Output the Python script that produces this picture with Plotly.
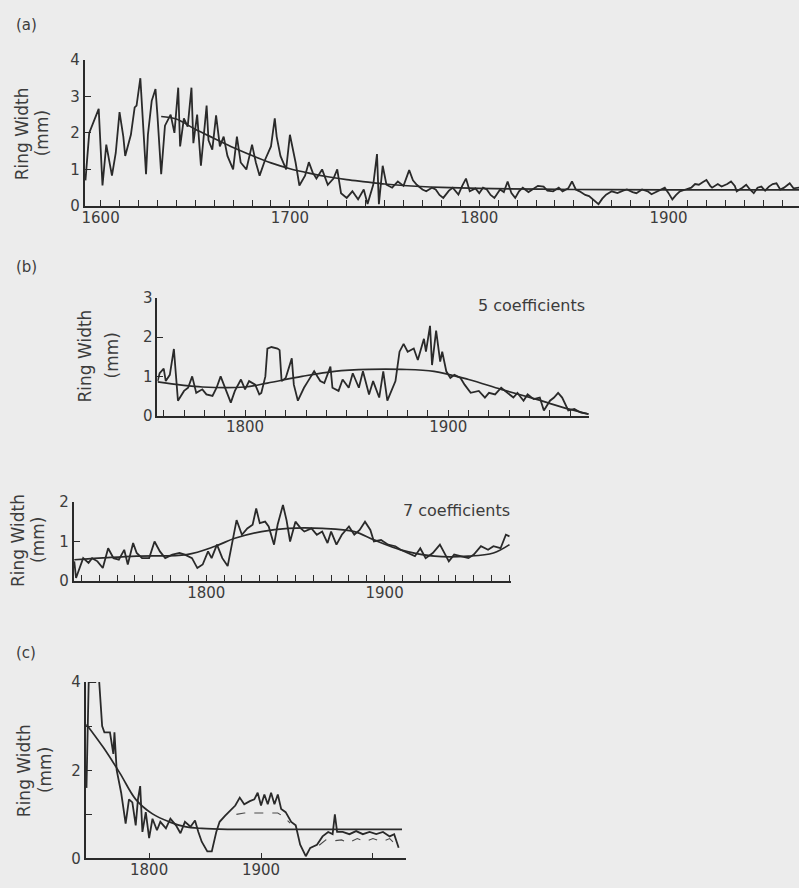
import plotly.graph_objects as go

# ---------------- data ----------------
# (a) raw ring-width series and negative-exponential style curve
a_years = [1592,1594,1599,1601,1603,1606,1608,1610,1612,1613,1616,1618,1619,1621,1624,1625,1627,1629,1630,1632,
           1634,1637,1639,1641,1642,1644,1646,1648,1649,1651,1653,1656,1657,1659,1661,1663,1665,1667,1670,1672,
           1674,1677,1680,1682,1684,1687,1690,1692,1693,1695,1698,1700,1703,1705,1708,1710,1712,1714,1717,1720,
           1723,1725,1727,1730,1733,1736,1739,1741,1744,1746,1747,1749,1751,1754,1757,1760,1763,1765,1767,1770,
           1772,1775,1777,1779,1781,1784,1786,1789,1791,1793,1795,1798,1800,1802,1804,1806,1808,1811,1813,1815,
           1817,1819,1821,1823,1826,1828,1831,1834,1836,1839,1842,1844,1847,1849,1851,1853,1856,1858,1861,1863,
           1865,1867,1870,1873,1876,1878,1881,1883,1886,1889,1891,1894,1896,1898,1900,1902,1904,1906,1909,1912,
           1914,1916,1918,1920,1922,1923,1926,1928,1931,1933,1935,1936,1939,1941,1943,1945,1947,1949,1951,1953,
           1955,1957,1959,1961,1963,1964,1966,1969]
a_values = [0.7,2.0,2.66,0.56,1.68,0.83,1.45,2.57,1.9,1.37,1.95,2.7,2.75,3.5,0.87,1.95,2.88,3.2,2.5,0.87,
            2.2,2.5,2.0,3.24,1.63,2.4,2.17,3.24,1.72,2.5,1.1,2.75,1.8,1.54,2.48,1.63,1.9,1.37,1.0,1.9,
            1.19,1.0,1.68,1.19,0.83,1.28,1.63,2.4,1.9,1.37,1.0,1.95,1.19,0.56,0.83,1.2,0.92,0.75,1.0,0.58,
            0.75,1.0,0.35,0.22,0.4,0.18,0.45,0.05,0.58,1.42,0.05,1.1,0.58,0.5,0.67,0.55,0.98,0.7,0.58,0.45,
            0.4,0.5,0.45,0.3,0.22,0.42,0.5,0.31,0.55,0.75,0.4,0.48,0.35,0.5,0.45,0.3,0.22,0.45,0.38,0.67,
            0.35,0.22,0.4,0.5,0.38,0.45,0.55,0.53,0.42,0.4,0.5,0.4,0.48,0.67,0.45,0.4,0.3,0.27,0.15,0.05,
            0.2,0.31,0.4,0.35,0.42,0.45,0.38,0.35,0.45,0.4,0.32,0.4,0.45,0.5,0.35,0.18,0.3,0.4,0.45,0.5,
            0.6,0.58,0.65,0.71,0.55,0.5,0.6,0.53,0.6,0.67,0.55,0.4,0.5,0.58,0.45,0.35,0.5,0.53,0.42,0.53,
            0.6,0.62,0.45,0.5,0.58,0.62,0.48,0.5]
a_curve_years = [1632,1640,1650,1660,1670,1680,1690,1700,1710,1720,1730,1740,1750,1760,1780,1800,1850,1900,1969]
a_curve_values = [2.45,2.38,2.1,1.85,1.6,1.38,1.18,1.02,0.9,0.8,0.72,0.66,0.6,0.56,0.51,0.48,0.45,0.44,0.44]

# (b) upper: 5 coefficients
b1_years = [1757,1758,1760,1761,1763,1765,1766,1767,1770,1772,1774,1776,1779,1781,1784,1786,1788,1790,1793,1795,
            1798,1800,1802,1805,1807,1808,1810,1811,1813,1816,1817,1818,1820,1823,1824,1826,1829,1831,1834,1837,
            1839,1842,1843,1846,1848,1851,1853,1856,1858,1861,1863,1866,1868,1870,1874,1876,1878,1880,1883,1885,
            1888,1889,1891,1892,1894,1896,1897,1899,1901,1903,1906,1908,1911,1915,1918,1920,1923,1926,1929,1932,
            1934,1937,1939,1942,1945,1947,1950,1952,1954,1956,1959,1962,1965,1969]
b1_values = [0.88,1.08,1.2,0.88,1.04,1.7,1.04,0.38,0.63,0.71,1.0,0.58,0.67,0.54,0.5,0.71,1.0,0.71,0.33,0.63,
             0.92,0.67,0.88,0.79,0.54,0.58,1.0,1.71,1.75,1.71,1.67,0.88,0.96,1.46,0.79,0.38,0.71,0.88,1.13,0.88,
             0.83,1.25,0.71,0.63,0.92,0.71,1.08,0.71,1.13,0.54,0.88,0.46,1.13,0.38,0.88,1.63,1.83,1.63,1.71,1.42,
             1.96,1.63,2.29,1.29,2.17,1.38,1.63,1.13,0.96,1.04,0.96,0.79,0.58,0.63,0.46,0.58,0.54,0.71,0.58,0.46,
             0.58,0.38,0.54,0.42,0.46,0.13,0.38,0.46,0.58,0.46,0.13,0.17,0.08,0.04]
b1_curve_years = [1757,1779,1800,1811,1828,1844,1861,1877,1893,1910,1926,1943,1959,1969]
b1_curve_values = [0.86,0.73,0.73,0.83,1.0,1.13,1.18,1.18,1.13,0.92,0.67,0.42,0.17,0.04]

# (b) lower: 7 coefficients
b2_years = [1726,1727,1729,1731,1734,1736,1739,1742,1745,1748,1751,1754,1756,1759,1761,1764,1768,1771,1774,1777,
            1781,1785,1788,1792,1795,1798,1801,1803,1806,1809,1812,1814,1817,1820,1823,1826,1828,1830,1833,1835,
            1838,1840,1843,1845,1847,1850,1853,1855,1859,1862,1865,1868,1870,1873,1876,1880,1883,1886,1889,1892,
            1894,1898,1902,1906,1909,1913,1917,1920,1923,1927,1931,1934,1936,1939,1943,1947,1950,1954,1958,1961,
            1965,1968,1970]
b2_values = [0.5,0.08,0.33,0.58,0.46,0.58,0.5,0.33,0.83,0.58,0.54,0.79,0.42,0.96,0.71,0.58,0.58,1.0,0.75,0.58,
             0.67,0.71,0.67,0.58,0.33,0.42,0.75,0.58,0.92,0.58,0.38,0.83,1.54,1.17,1.33,1.42,1.83,1.46,1.5,1.38,
             0.92,1.42,1.92,1.54,1.0,1.5,1.33,1.25,1.33,1.17,1.25,0.96,1.25,0.92,1.17,1.38,1.17,1.29,1.5,1.29,
             1.0,1.04,0.92,0.88,0.79,0.71,0.63,0.83,0.58,0.71,0.92,0.67,0.5,0.67,0.63,0.58,0.67,0.88,0.79,0.88,
             0.83,1.17,1.13]
b2_curve_years = [1726,1761,1789,1805,1816,1831,1846,1865,1883,1894,1909,1928,1947,1961,1970]
b2_curve_values = [0.54,0.63,0.67,0.88,1.08,1.25,1.33,1.33,1.25,1.04,0.79,0.63,0.63,0.71,0.92]

# (c) series, fitted curve and second (dashed) series
c_years = [1744,1745,1746,1752,1755,1758,1760,1765,1768,1769,1771,1775,1779,1782,1785,1788,1790,1792,1794,1797,
           1800,1803,1807,1810,1815,1819,1824,1828,1832,1837,1841,1844,1847,1852,1856,1860,1863,1868,1872,1877,
           1881,1885,1890,1894,1897,1900,1903,1906,1909,1912,1915,1918,1922,1927,1931,1935,1940,1944,1950,1955,
           1960,1964,1966,1968,1973,1979,1985,1991,1997,2003,2009,2015,2019,2023]
c_values = [1.6,3.3,4.0,4.0,4.15,3.0,2.86,2.86,2.37,2.86,2.0,1.49,0.79,1.34,1.27,0.75,1.34,1.64,0.6,1.05,
            0.46,0.9,0.64,0.83,0.68,0.9,0.75,0.57,0.83,0.72,0.86,0.6,0.38,0.16,0.16,0.6,0.83,0.97,1.08,1.2,
            1.38,1.23,1.3,1.34,1.49,1.2,1.45,1.23,1.49,1.23,1.45,1.12,1.05,0.83,0.75,0.31,0.05,0.24,0.31,0.5,
            0.6,0.55,1.0,0.6,0.6,0.55,0.62,0.55,0.6,0.55,0.6,0.5,0.55,0.24]
c_curve_years = [1744,1759,1774,1788,1803,1818,1832,1847,1870,1950,2026]
c_curve_values = [3.04,2.52,1.93,1.34,1.01,0.83,0.72,0.68,0.66,0.66,0.66]
c_alt_years = [1878,1885,1900,1915,1920,1926,None,1952,1958,1965,1972,1978,1986,1993,2000,2008,2015,2021]
c_alt_values = [1.0,1.03,1.03,1.03,0.95,0.8,None,0.3,0.42,0.4,0.42,0.35,0.45,0.38,0.45,0.38,0.45,0.3]

# tick labels
a_tickvals = list(range(1600, 1970, 10))
a_ticktext = [str(v) if v % 100 == 0 else "" for v in a_tickvals]
b1_tickvals = list(range(1760, 1970, 10))
b1_ticktext = [str(v) if v % 100 == 0 else "" for v in b1_tickvals]
b2_tickvals = list(range(1730, 1971, 10))
b2_ticktext = [str(v) if v % 100 == 0 else "" for v in b2_tickvals]
c_tickvals = [1800, 1900, 2000]
c_ticktext = ["1800", "1900", ""]

# ---------------- figure ----------------
W, H = 799, 888
INK = "#2a2a2a"
TXT = "#3c3c3c"
FONT = "DejaVu Sans, Verdana, sans-serif"

def px(x):
    return x / W

def py(y):
    return 1 - y / H

fig = go.Figure()

def line(x, y, ax, width=1.8, dash=None, shape="linear", color=INK, clip=True):
    fig.add_trace(go.Scatter(
        x=x, y=y, mode="lines", xaxis="x" + ax, yaxis="y" + ax,
        line=dict(color=color, width=width, dash=dash, shape=shape),
        connectgaps=False, showlegend=False, hoverinfo="skip", cliponaxis=clip))

line(a_years, a_values, "")
line(a_curve_years, a_curve_values, "", width=1.7, shape="spline")
line(b1_years, b1_values, "2")
line(b1_curve_years, b1_curve_values, "2", width=1.7, shape="spline")
line(b2_years, b2_values, "3")
line(b2_curve_years, b2_curve_values, "3", width=1.7, shape="spline")
line(c_years, c_values, "4", clip=False)
line(c_curve_years, c_curve_values, "4", width=1.7, shape="spline")
line(c_alt_years, c_alt_values, "4", width=1.1, dash="dash", color="#4a4a4a")

def xax(domain, rng, tv, tt, anchor):
    return dict(domain=domain, range=rng, tickvals=tv, ticktext=tt, anchor=anchor,
                showline=True, linecolor=INK, linewidth=1.8, ticks="inside", ticklen=6,
                tickwidth=1.4, tickcolor=INK, showgrid=False, zeroline=False,
                tickfont=dict(family=FONT, size=15, color=TXT), ticklabelstandoff=-3)

def yax(domain, rng, tv, tt, anchor):
    return dict(domain=domain, range=rng, tickvals=tv, ticktext=tt, anchor=anchor,
                showline=True, linecolor=INK, linewidth=1.8, ticks="inside", ticklen=6,
                tickwidth=1.4, tickcolor=INK, showgrid=False, zeroline=False,
                tickfont=dict(family=FONT, size=15, color=TXT), ticklabelstandoff=0)

fig.update_layout(
    width=W, height=H, margin=dict(l=0, r=0, t=0, b=0),
    paper_bgcolor="#ececec", plot_bgcolor="rgba(0,0,0,0)",
    xaxis=xax([px(82), px(799)], [1591.6, 1968.9], a_tickvals, a_ticktext, "y"),
    yaxis=yax([py(201), py(52)], [0, 4], [0, 1, 2, 3, 4], ["0", "1", "2", "3", "4"], "x"),
    xaxis2=xax([px(155), px(588)], [1756.9, 1969.1], b1_tickvals, b1_ticktext, "y2"),
    yaxis2=yax([py(415), py(295)], [0, 3], [0, 1, 2, 3], ["0", "1", "2", "3"], "x2"),
    xaxis3=xax([px(71), px(510)], [1725.7, 1970.9], b2_tickvals, b2_ticktext, "y3"),
    yaxis3=yax([py(584), py(503)], [0, 2], [0, 1, 2], ["0", "1", "2"], "x3"),
    xaxis4=xax([px(83), px(405)], [1743.3, 2030], c_tickvals, c_ticktext, "y4"),
    yaxis4=yax([py(867), py(687)], [0, 4], [0, 1, 2, 3, 4], ["0", "", "2", "", "4"], "x4"),
)

annots = []
def note(text, x, y, size=16, angle=0, xanchor="center"):
    annots.append(dict(text=text, x=px(x), y=py(y), xref="paper", yref="paper",
                       showarrow=False, textangle=angle, xanchor=xanchor, yanchor="middle",
                       font=dict(family=FONT, size=size, color=TXT)))

note("(a)", 11, 16, size=15, xanchor="left")
note("(b)", 11, 263, size=15, xanchor="left")
note("(c)", 11, 657, size=15, xanchor="left")
for xr, xm, yc in [(20, 40, 127), (82, 109, 354), (15, 35, 542), (21, 42, 777)]:
    note("Ring Width", xr, yc, size=17, angle=-90)
    note("(mm)", xm, yc, size=17, angle=-90)
note("5 coefficients", 586, 303, size=16, xanchor="right")
note("7 coefficients", 511, 512, size=16, xanchor="right")
fig.update_layout(annotations=annots)

fig.write_html("out.html")
